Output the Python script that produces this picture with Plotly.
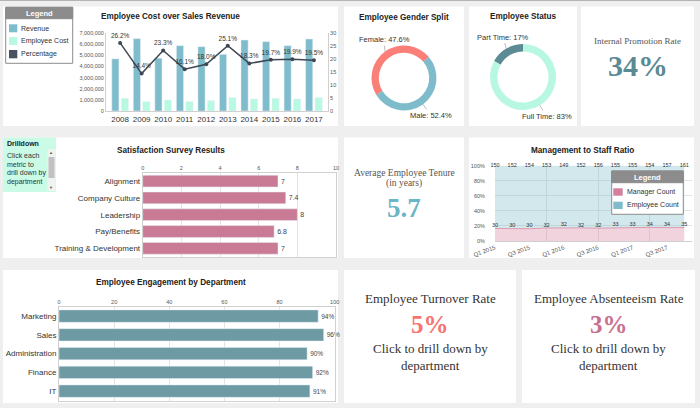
import math
import plotly.graph_objects as go

W, H = 700, 408
def X(px): return px / W
def Y(py): return 1 - py / H

# ---------------- data ----------------
years = ['2008', '2009', '2010', '2011', '2012', '2013', '2014', '2015', '2016', '2017']
revenue = [4680000, 6490000, 4740000, 5860000, 5770000, 5080000, 6370000, 6220000, 5860000, 6460000]
employee_cost = [1140000, 840000, 990000, 840000, 930000, 1200000, 1080000, 1140000, 1080000, 1200000]
cost_pct = [26.2, 14.4, 23.3, 16.1, 18.0, 25.1, 18.3, 19.7, 19.9, 19.5]

gender_labels = ['Female', 'Male']
gender_values = [47.6, 52.4]
status_labels = ['Part Time', 'Full Time']
status_values = [17, 83]

survey_metrics = ['Alignment', 'Company Culture', 'Leadership', 'Pay/Benefits', 'Training & Development']
survey_scores = [7, 7.4, 8, 6.8, 7]

quarters = ['Q1 2015', 'Q2 2015', 'Q3 2015', 'Q4 2015', 'Q1 2016', 'Q2 2016', 'Q3 2016', 'Q4 2016',
            'Q1 2017', 'Q2 2017', 'Q3 2017', 'Q4 2017']
manager_count = [30, 30, 30, 32, 32, 32, 32, 33, 33, 34, 34, 35]
employee_count = [150, 152, 154, 153, 149, 152, 156, 155, 155, 154, 157, 161]

departments = ['Marketing', 'Sales', 'Administration', 'Finance', 'IT']
engagement = [94, 96, 90, 92, 91]

promotion_rate = '34%'
avg_tenure = '5.7'
turnover_rate = '5%'
absenteeism_rate = '3%'

# ---------------- styles ----------------
SANS = 'Liberation Sans, Arial, sans-serif'
SERIF = 'Liberation Serif, Times New Roman, serif'
C_REV = '#7fbccc'
C_COST = '#b8f9e1'
C_PCT = '#3e4754'
C_FEMALE = '#fa7f78'
C_MALE = '#7fbccb'
C_PART = '#5c8b96'
C_FULL = '#b8f8e2'
C_SURVEY = '#c97b95'
C_ENG = '#6e9aa3'
C_MGR = '#d4809c'
C_EMP = '#7fbccc'
GRID = '#e4e4e4'
AXL = '#d0d0d0'

fig = go.Figure()

# ---- chart 1: employee cost vs revenue ----
fig.add_trace(go.Bar(x=years, y=revenue, name='Revenue', marker_color=C_REV,
                     xaxis='x', yaxis='y', offsetgroup='a'))
fig.add_trace(go.Bar(x=years, y=employee_cost, name='Employee Cost', marker_color=C_COST,
                     xaxis='x', yaxis='y', offsetgroup='b'))
fig.add_trace(go.Scatter(x=years, y=cost_pct, name='Percentage', mode='lines+markers+text',
                         text=[f'{v:.1f}%' for v in cost_pct], textposition='top center',
                         textfont=dict(size=6.5, color='#333'),
                         line=dict(color=C_PCT, width=1.5), marker=dict(size=4, color=C_PCT),
                         xaxis='x', yaxis='y2', cliponaxis=False))

# ---- pies (donuts) ----
# each donut: first slice begins at `start` (deg clockwise from 12 o'clock) and runs counterclockwise
donuts = [
    dict(labels=gender_labels, values=gender_values, colors=[C_FEMALE, C_MALE], start=50,
         cx=404, cy=78, d=65, fmt='{:.1f}%', offsets=[(-1, -12), (8, 11)]),
    dict(labels=status_labels, values=status_values, colors=[C_PART, C_FULL], start=0,
         cx=523, cy=77, d=66, fmt='{:.0f}%', offsets=[(-3, -11.5), (7, 11)]),
]
ann = []
for dn in donuts:
    tot = sum(dn['values'])
    shares = [v / tot for v in dn['values']]
    rot = dn['start'] - shares[0] * 360
    r = dn['d'] / 2
    fig.add_trace(go.Pie(labels=dn['labels'], values=dn['values'], hole=0.775, sort=False,
                         direction='counterclockwise', rotation=rot,
                         marker=dict(colors=dn['colors']), textinfo='none',
                         domain=dict(x=[X(dn['cx'] - r), X(dn['cx'] + r)],
                                     y=[Y(dn['cy'] + r), Y(dn['cy'] - r)])))
    cum = 0
    for lab, s, (ox, oy) in zip(dn['labels'], shares, dn['offsets']):
        mid = math.radians(dn['start'] - 360 * (cum + s / 2))
        cum += s
        px = dn['cx'] + r * math.sin(mid)
        py = dn['cy'] - r * math.cos(mid)
        ann.append(dict(x=X(px), y=Y(py), xref='paper', yref='paper',
                        text=f"{lab}: {dn['fmt'].format(s * 100)}", showarrow=True,
                        arrowhead=0, arrowwidth=0.8, arrowcolor='#aaaaaa', ax=ox, ay=oy, standoff=0,
                        font=dict(size=7.5, color='#333', family=SANS)))

# ---- satisfaction survey ----
fig.add_trace(go.Bar(x=survey_scores, y=survey_metrics, orientation='h', marker_color=C_SURVEY,
                     text=[f'{v:g}' for v in survey_scores], textposition='outside',
                     textfont=dict(size=7, color='#444'), cliponaxis=False,
                     xaxis='x3', yaxis='y3', width=0.7))

# ---- management to staff ratio ----
qx = list(range(len(quarters)))
fig.add_trace(go.Scatter(x=qx, y=manager_count, name='Manager Count', stackgroup='one', groupnorm='percent',
                         mode='lines+text', text=[str(v) for v in manager_count], textposition='top center',
                         textfont=dict(size=5.5, color='#333'),
                         line=dict(color='#dc9bb0', width=1), fillcolor='rgba(212,128,156,0.35)',
                         xaxis='x4', yaxis='y4', cliponaxis=False))
fig.add_trace(go.Scatter(x=qx, y=employee_count, name='Employee Count', stackgroup='one',
                         mode='lines+text', text=[str(v) for v in employee_count], textposition='middle center',
                         textfont=dict(size=5.5, color='#333'),
                         line=dict(color='rgba(127,188,204,0.35)', width=0.5), fillcolor='rgba(127,188,204,0.35)',
                         xaxis='x4', yaxis='y4', cliponaxis=False))

# ---- engagement ----
fig.add_trace(go.Bar(x=engagement, y=departments, orientation='h', marker_color=C_ENG,
                     text=[f'{v}%' for v in engagement], textposition='outside',
                     textfont=dict(size=6.5, color='#444'), cliponaxis=False,
                     xaxis='x5', yaxis='y5'))

# ---------------- shapes (panels, legends) ----------------
shapes = []
def rect(x0, y0, x1, y1, fill, line=None, lw=0, layer='below'):
    shapes.append(dict(type='rect', xref='paper', yref='paper', x0=X(x0), x1=X(x1), y0=Y(y1), y1=Y(y0),
                       fillcolor=fill, line=dict(color=line or fill, width=lw), layer=layer))

panels = [(3, 6.5, 338, 126), (344, 6.5, 464, 126), (469, 6.5, 577, 126), (581, 6.5, 694, 126),
          (3, 137.5, 338, 258), (344, 137.5, 464, 258), (469, 137.5, 694, 258),
          (3, 270, 338, 403), (344, 270, 516, 403), (522, 270, 695, 403)]
for p in panels:
    rect(*p, '#ffffff')
shapes.append(dict(type='line', xref='paper', yref='paper', x0=0, x1=1, y0=Y(0.5), y1=Y(0.5),
                   line=dict(color='#b4b4b4', width=1)))

# drilldown box
rect(3, 137.5, 56, 192, '#c9fbe7')
rect(47.5, 149, 55.5, 191, '#eef4f1')
rect(48.5, 157, 54.5, 178, '#c1c1c1')

# legend 1
rect(5.7, 7.3, 72.7, 63.3, '#ffffff', '#8c8c8c', 1, 'above')
rect(5.7, 7.3, 72.7, 18.7, '#8c8c8c', '#8c8c8c', 1, 'above')
rect(9, 24.3, 17.3, 32.3, C_REV, layer='above')
rect(9, 37, 17.3, 45, C_COST, layer='above')
rect(9, 50, 17.3, 58.3, '#4a5260', layer='above')

# legend 2
rect(611.7, 171, 683.3, 214.3, '#ffffff', '#8c8c8c', 1, 'above')
rect(611.7, 171, 683.3, 182.7, '#8c8c8c', '#8c8c8c', 1, 'above')
rect(613.3, 188.3, 622.7, 195.7, C_MGR, layer='above')
rect(613.3, 201.7, 622.7, 209, C_EMP, layer='above')

# ---------------- annotations ----------------
def txt(x, y, s, size, color='#333', family=SANS, xanchor='center', bold=False):
    if bold:
        s = f'<b>{s}</b>'
    ann.append(dict(x=X(x), y=Y(y), xref='paper', yref='paper', text=s, showarrow=False,
                    xanchor=xanchor, yanchor='middle', font=dict(size=size, color=color, family=family)))

txt(170, 17, 'Employee Cost over Sales Revenue', 8.2, '#222', bold=True)
txt(404, 17.3, 'Employee Gender Split', 8.2, '#222', bold=True)
txt(523, 17, 'Employee Status', 8.2, '#222', bold=True)
txt(170.5, 150, 'Satisfaction Survey Results', 8.2, '#222', bold=True)
txt(582.5, 150, 'Management to Staff Ratio', 8.2, '#222', bold=True)
txt(170.8, 282.7, 'Employee Engagement by Department', 8.2, '#222', bold=True)

txt(39.2, 13, 'Legend', 7.5, '#ffffff', bold=True)
txt(19.3, 28.3, 'Revenue', 7, '#333', xanchor='left')
txt(19.3, 41, 'Employee Cost', 7, '#333', xanchor='left')
txt(19.3, 54, 'Percentage', 7, '#333', xanchor='left')

txt(647.5, 177, 'Legend', 7.5, '#ffffff', bold=True)
txt(625, 192, 'Manager Count', 7, '#333', xanchor='left')
txt(625, 205.3, 'Employee Count', 7, '#333', xanchor='left')

txt(5, 143.3, 'Drilldown', 7, '#222', xanchor='left', bold=True)
for i, line in enumerate(['Click each', 'metric to', 'drill down by', 'department']):
    txt(5, 155.3 + i * 8.8, line, 7, '#333', xanchor='left')
txt(51.5, 152.5, '▲', 4, '#555')
txt(51.5, 187.5, '▼', 4, '#555')

txt(637.5, 41, 'Internal Promotion Rate', 9, '#555', SERIF)
txt(637.5, 66, promotion_rate, 30, '#5b8a95', SERIF, bold=True)
txt(404, 173, 'Average Employee Tenure', 9.5, '#555', SERIF)
txt(404, 183.5, '(in years)', 9.5, '#555', SERIF)
txt(404, 208, avg_tenure, 27, '#6cb5c7', SERIF, bold=True)

for cx, title, val, col in [(430, 'Employee Turnover Rate', turnover_rate, '#f77270'),
                            (608.5, 'Employee Absenteeism Rate', absenteeism_rate, '#c8708f')]:
    txt(cx, 298, title, 13, '#333', SERIF)
    txt(cx, 324, val, 25, col, SERIF, bold=True)
    txt(cx, 348.5, 'Click to drill down by', 13, '#333', SERIF)
    txt(cx, 365, 'department', 13, '#333', SERIF)

# ---------------- layout ----------------
tick_small = dict(size=5.5, color='#555')
fig.update_layout(
    width=W, height=H, margin=dict(l=0, r=0, t=0, b=0, pad=0, autoexpand=False),
    paper_bgcolor='#efefef', plot_bgcolor='rgba(0,0,0,0)',
    font=dict(family=SANS, color='#333'),
    showlegend=False, barmode='group', bargap=0.12, bargroupgap=0.25,
    shapes=shapes, annotations=ann,
    xaxis=dict(domain=[X(106), X(328)], anchor='y', type='category', tickfont=dict(size=8, color='#333'),
               showline=True, linecolor=AXL, showgrid=False, ticks=''),
    yaxis=dict(domain=[Y(111), Y(33)], anchor='x', range=[0, 7000000], dtick=1000000, tickformat=',d',
               tickfont=dict(size=5.5, color='#555'), showgrid=False, showline=True, linecolor=AXL,
               zeroline=False),
    yaxis2=dict(overlaying='y', anchor='x', side='right', range=[0, 30], dtick=5,
                tickfont=dict(size=5.5, color='#555'), showgrid=False, showline=True, linecolor=AXL,
                zeroline=False),
    xaxis3=dict(domain=[X(142.7), X(336)], anchor='y3', side='top', range=[0, 10], dtick=2,
                tickfont=tick_small, showgrid=True, gridcolor=GRID, showline=True, linecolor=AXL,
                mirror=True, zeroline=False),
    yaxis3=dict(domain=[Y(256.7), Y(172.7)], anchor='x3', autorange='reversed',
                tickfont=dict(size=8, color='#333'), showline=True, linecolor=AXL, mirror=True),
    xaxis4=dict(domain=[X(495), X(692)], anchor='y4', range=[0, 11.45],
                tickvals=qx[::2], ticktext=quarters[::2], tickangle=-20,
                tickfont=dict(size=6, color='#555'),
                showgrid=False, showline=True, linecolor=AXL, zeroline=False,
                minor=dict(tickvals=[3, 6, 9], showgrid=True, gridcolor=GRID)),
    yaxis4=dict(domain=[Y(241), Y(165.7)], anchor='x4', range=[0, 100], dtick=20, ticksuffix='%',
                tickfont=tick_small, showgrid=True, gridcolor=GRID, zeroline=False,
                ticks='outside', ticklen=8, tickcolor='rgba(0,0,0,0)'),
    xaxis5=dict(domain=[X(59), X(334.7)], anchor='y5', side='top', range=[0, 100], dtick=20,
                tickfont=tick_small, showgrid=True, gridcolor=GRID, showline=True, linecolor=AXL,
                mirror=True, zeroline=False),
    yaxis5=dict(domain=[Y(400.5), Y(306.7)], anchor='x5', autorange='reversed',
                tickfont=dict(size=8, color='#333'), showline=True, linecolor=AXL, mirror=True),
)
for ax in ['xaxis', 'yaxis', 'yaxis2', 'xaxis3', 'yaxis3', 'xaxis4', 'yaxis4', 'xaxis5', 'yaxis5']:
    fig.layout[ax].automargin = False

fig.write_html('out.html', config={'displayModeBar': False},
               post_script="document.body.style.margin='0';document.body.style.padding='0';")
